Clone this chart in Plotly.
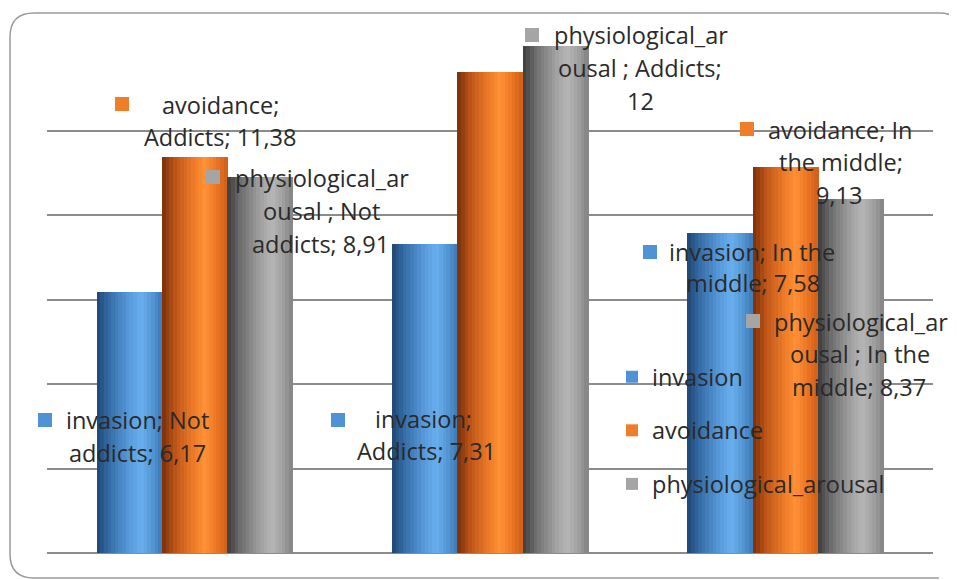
import plotly.graph_objects as go

# ---------------- data ----------------
categories = ["Not addicts", "Addicts", "In the middle"]
series_names = ["invasion", "avoidance", "physiological_arousal"]
invasion = [6.17, 7.31, 7.58]
avoidance = [9.37, 11.38, 9.13]
physiological_arousal = [8.91, 12.0, 8.37]
y_ticks = [0, 2, 4, 6, 8, 10, 12]

# data-label lines as shown in the picture (wrapped as in the original)
label_lines = [
    ["avoidance;", "Addicts; 11,38"],
    ["physiological_ar", "ousal ; Not", "addicts; 8,91"],
    ["physiological_ar", "ousal ; Addicts;", "12"],
    ["avoidance; In", "the middle;", "9,13"],
    ["invasion; In the", "middle; 7,58"],
    ["physiological_ar", "ousal ; In the", "middle; 8,37"],
    ["invasion; Not", "addicts; 6,17"],
    ["invasion;", "Addicts; 7,31"],
]
label_series = [1, 2, 2, 1, 0, 2, 0, 0]

# ---------------- styling ----------------
OFF = 8                      # page body margin
W, H = 957 - OFF, 580 - OFF
PL, PR, PT, PB = 47, 933, 46, 553   # plot area in screen pixels
FONT = "Open Sans"
FS = 23.5
TXT = "#2a2a2a"

def X(px):
    return (px - PL) / (PR - PL)

def Y(py):
    return (PB - py) / (PB - PT)

# cylinder-like gradient stops per series (t across bar width)
stops = [
    [(0.0, (30, 70, 115)), (0.2, (55, 110, 168)), (0.5, (88, 155, 220)),
     (0.68, (105, 175, 238)), (0.85, (85, 150, 212)), (1.0, (62, 120, 180))],
    [(0.0, (120, 48, 10)), (0.2, (190, 85, 25)), (0.5, (240, 125, 40)),
     (0.65, (255, 145, 55)), (0.85, (235, 115, 35)), (1.0, (205, 95, 25))],
    [(0.0, (60, 60, 60)), (0.2, (110, 110, 110)), (0.5, (160, 160, 160)),
     (0.68, (182, 182, 182)), (0.85, (160, 160, 160)), (1.0, (130, 130, 130))],
]
legend_colors = ["#4f93d6", "#f07d2a", "#a5a5a5"]

def grad(s, t):
    st = stops[s]
    for (t0, c0), (t1, c1) in zip(st[:-1], st[1:]):
        if t0 <= t <= t1:
            f = (t - t0) / (t1 - t0)
            c = [round(a + (b - a) * f) for a, b in zip(c0, c1)]
            return "rgb({},{},{})".format(*c)
    return "rgb({},{},{})".format(*st[-1][1])

values = [invasion, avoidance, physiological_arousal]

group_w = 0.664
bar_w = group_w / 3
N = 18
slice_w = bar_w / N

fig = go.Figure()
for s, (name, vals) in enumerate(zip(series_names, values)):
    for k in range(N):
        t = (k + 0.5) / N
        off = -group_w / 2 + s * bar_w + k * slice_w
        fig.add_trace(go.Bar(
            x=categories, y=vals, name=name,
            width=slice_w * 1.15, offset=off,
            marker=dict(color=grad(s, t), line=dict(width=0)),
            showlegend=False, legendgroup=name, hoverinfo="skip",
        ))
    # legend entry
    fig.add_trace(go.Bar(
        x=categories, y=[None] * len(categories), name=name,
        marker=dict(color=legend_colors[s], line=dict(width=0)),
        showlegend=True, legendgroup=name,
    ))

# ---------------- data labels (as annotations) ----------------
label_pos = [
    # (square center x, y), [(line center x, y), ...]
    ((122, 104), [(220, 105), (220, 137)]),
    ((213, 177), [(322, 178), (321, 211), (320, 244)]),
    ((532, 35), [(641, 35), (640, 68), (640, 101)]),
    ((747, 129), [(840, 130), (841, 162), (839, 195)]),
    ((650, 252), [(752, 252), (753, 283)]),
    ((753, 321), [(861, 322), (860, 354), (859, 387)]),
    ((45, 420), [(137, 420), (137, 453)]),
    ((338, 420), [(423, 419), (426, 451)]),
]
shapes = []
annotations = []
for lines, s, (sq, lp) in zip(label_lines, label_series, label_pos):
    sx, sy = sq
    shapes.append(dict(type="rect", xref="paper", yref="paper",
                       x0=X(sx - 7), x1=X(sx + 7), y0=Y(sy + 7), y1=Y(sy - 7),
                       fillcolor=legend_colors[s], line=dict(width=0), layer="above"))
    for txt, (lx, ly) in zip(lines, lp):
        annotations.append(dict(text=txt, xref="paper", yref="paper",
                                x=X(lx), y=Y(ly), xanchor="center", yanchor="middle",
                                showarrow=False,
                                font=dict(family=FONT, size=FS, color=TXT)))

# rounded outer frame (right side runs off the picture)
l, t, r, b, rad = 10, 13, 963, 578, 24
path = (f"M {X(r)},{Y(t + rad)} Q {X(r)},{Y(t)} {X(r - rad)},{Y(t)} "
        f"L {X(l + rad)},{Y(t)} Q {X(l)},{Y(t)} {X(l)},{Y(t + rad)} "
        f"L {X(l)},{Y(b - rad)} Q {X(l)},{Y(b)} {X(l + rad)},{Y(b)} "
        f"L {X(r - rad)},{Y(b)}")
shapes.append(dict(type="path", xref="paper", yref="paper", path=path,
                   line=dict(color="#9a9a9a", width=1.5), layer="below"))

fig.update_layout(
    width=W, height=H,
    margin=dict(l=PL - OFF, r=(W + OFF) - PR, t=PT - OFF, b=(H + OFF) - PB),
    paper_bgcolor="white", plot_bgcolor="white",
    barmode="overlay", bargap=0,
    font=dict(family=FONT, size=FS, color=TXT),
    xaxis=dict(showticklabels=False, showgrid=False, zeroline=False,
               showline=False, ticks="", range=[-0.5, 2.5]),
    yaxis=dict(range=[0, 12], tickvals=y_ticks, showticklabels=False,
               showgrid=True, gridcolor="#8c8c8c", gridwidth=2,
               zeroline=True, zerolinecolor="#8c8c8c", zerolinewidth=2,
               showline=False, ticks=""),
    legend=dict(x=X(612), y=Y(355), xanchor="left", yanchor="top",
                bgcolor="rgba(0,0,0,0)", tracegroupgap=20,
                font=dict(family=FONT, size=FS, color=TXT),
                itemclick=False),
    shapes=shapes,
    annotations=annotations,
)

fig.write_html("out.html")
